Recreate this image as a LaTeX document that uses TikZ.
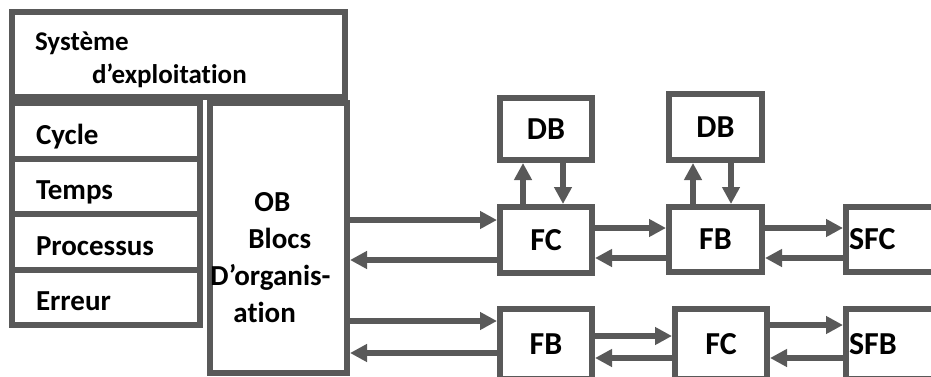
\documentclass[tikz,border=0pt]{standalone}
\usepackage{fontspec}
\setmainfont{Carlito}[Ligatures=NoCommon]
\usetikzlibrary{arrows.meta, positioning}
\definecolor{grisTrait}{HTML}{595959}

\begin{document}
\begin{tikzpicture}[x=1pt, y=1pt,
        boite/.style={draw=grisTrait, line width=6pt, inner sep=0pt},
        bloc/.style={boite, minimum width=92pt, font=\bfseries\fontsize{32}{36}\selectfont,
            text height=20pt, text depth=0pt},
        evt/.style={boite, minimum width=188pt, minimum height=55.5pt, text width=140pt,
            inner xsep=24pt, align=left, font=\bfseries\fontsize{29}{32}\selectfont,
            text height=27pt, text depth=0pt},
        sortie/.style={bloc, minimum width=114pt, text width=108pt, inner xsep=3pt, align=left},
        obtxt/.style={align=left, font=\bfseries\fontsize{29}{37}\selectfont},
        fl/.style={-{Triangle[length=17pt, width=17pt]}, grisTrait, line width=5.5pt}
    ]
        \useasboundingbox (0,0) rectangle (931,376);
        \clip (0,0) rectangle (931,376);

        % systeme et evenements
        \node[boite, minimum width=333pt, minimum height=85pt, text width=287pt, inner xsep=23pt,
            align=left, font=\bfseries\fontsize{27}{33}\selectfont, text height=10pt, text depth=19pt]
            (os) at (178.5,321.5) {Système\\\hspace*{57pt}d’exploitation};
        \node[evt] (cycle) at (106,245.25) {Cycle};
        \node[evt] (temps) at (106,189.75) {Temps};
        \node[evt] (proc) at (106,134.25) {Processus};
        \node[evt] (err) at (106,78.75) {Erreur};

        \node[boite, minimum width=137pt, minimum height=270pt,
            label={[obtxt, xshift=-8pt, yshift=-20pt]center:{\hspace*{44pt}OB\\\hspace*{38pt}Blocs\\D’organis-\\\hspace*{23pt}ation}}] (ob) at (278.5,138) {};

        % rangee du haut
        \node[bloc, minimum height=62pt] (db1) at (546,247) {DB};
        \node[bloc, minimum height=66pt] (fc1) at (546,136) {FC};
        \node[bloc, minimum width=93pt, minimum height=66pt] (db2) at (715.5,249) {DB};
        \node[bloc, minimum width=93pt, minimum height=65pt] (fb1) at (715.5,136.5) {FB};
        \node[sortie, minimum height=65pt] (sfc) at (903,136.5) {SFC};

        % rangee du bas
        \node[bloc, minimum height=70pt] (fb2) at (546,32) {FB};
        \node[bloc, minimum height=70pt] (fc2) at (721,32) {FC};
        \node[sortie, minimum height=70pt] (sfb) at (903,32) {SFB};

        \draw[fl] ([yshift=20pt]fc1.west -| ob.east) -- ([yshift=20pt]fc1.west);
        \draw[fl] ([yshift=-20pt]fc1.west) -- ([yshift=-20pt]fc1.west -| ob.east);
        \draw[fl] ([xshift=-23pt]fc1.north) -- ([xshift=-23pt]fc1.north |- db1.south);
        \draw[fl] ([xshift=17pt]fc1.north |- db1.south) -- ([xshift=17pt]fc1.north);
        \draw[fl] ([yshift=12pt]fc1.east) -- ([yshift=12pt]fc1.east -| fb1.west);
        \draw[fl] ([yshift=-18pt]fc1.east -| fb1.west) -- ([yshift=-18pt]fc1.east);
        \draw[fl] ([xshift=-22.5pt]fb1.north) -- ([xshift=-22.5pt]fb1.north |- db2.south);
        \draw[fl] ([xshift=15.5pt]fb1.north |- db2.south) -- ([xshift=15.5pt]fb1.north);
        \draw[fl] ([yshift=11.5pt]fb1.east) -- ([yshift=11.5pt]fb1.east -| sfc.west);
        \draw[fl] ([yshift=-18.5pt]fb1.east -| sfc.west) -- ([yshift=-18.5pt]fb1.east);

        \draw[fl] ([yshift=23pt]fb2.west -| ob.east) -- ([yshift=23pt]fb2.west);
        \draw[fl] ([yshift=-9pt]fb2.west) -- ([yshift=-9pt]fb2.west -| ob.east);
        \draw[fl] ([yshift=8pt]fb2.east) -- ([yshift=8pt]fb2.east -| fc2.west);
        \draw[fl] ([yshift=-14pt]fb2.east -| fc2.west) -- ([yshift=-14pt]fb2.east);
        \draw[fl] ([yshift=19pt]fc2.east) -- ([yshift=19pt]fc2.east -| sfb.west);
        \draw[fl] ([yshift=-14pt]fc2.east -| sfb.west) -- ([yshift=-14pt]fc2.east);
\end{tikzpicture}
\end{document}
